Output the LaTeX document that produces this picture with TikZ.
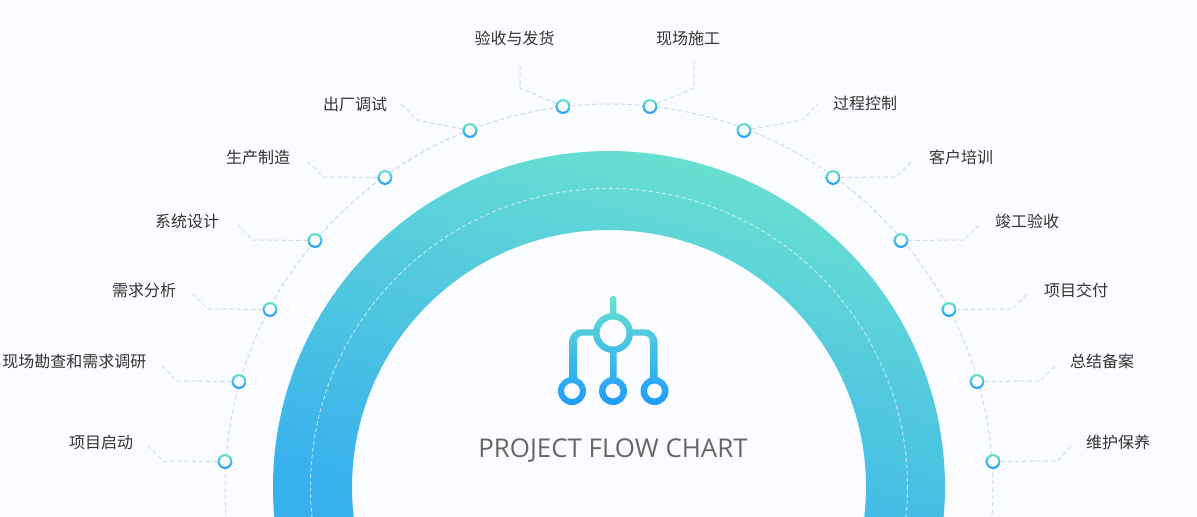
\documentclass[tikz,border=0pt]{standalone}
\usepackage{fontspec}
\setmainfont{Noto Sans CJK SC}
\newfontfamily\titlefont{Open Sans}
\definecolor{pagebg}{HTML}{FAFCFF}
\definecolor{leader}{HTML}{CCD8F2}
\definecolor{ringtop}{HTML}{6CE2CF}
\definecolor{ringbot}{HTML}{38B0EE}
\definecolor{icontop}{HTML}{68E2CE}
\definecolor{iconbot}{HTML}{1F9CFD}
\definecolor{labeltext}{HTML}{333333}
\definecolor{titletext}{HTML}{666666}
\tikzset{
  dotnode/.style={circle,minimum size=11.2pt,inner sep=0pt,outer sep=0pt,top color=icontop,bottom color=iconbot,
    path picture={\fill[white] (path picture bounding box.center) circle (4pt);}},
  lab/.style={font=\fontsize{12pt}{14pt}\selectfont,text=labeltext,inner sep=0pt},
  leaderline/.style={draw=leader,line width=0.75pt,dash pattern=on 3.2pt off 2.2pt},
}
\begin{document}
\begin{tikzpicture}[x=0.75pt,y=-0.75pt]
\useasboundingbox (0,0) rectangle (1197,517);
\fill[pagebg] (0,0) rectangle (1197,517);
% ring
\shade[top color=ringtop,bottom color=ringbot,shading angle=-14]
  ({609+336*cos(174.88)},{487+336*sin(174.88)}) arc (174.88:365.12:336)
  -- ({609+257*cos(6.7)},{487+257*sin(6.7)}) arc (366.7:173.3:257) -- cycle;
\begin{scope}
\clip (0,0) rectangle (1197,517);
\draw[white,opacity=0.6,line width=0.75pt,dash pattern=on 3pt off 2pt] (609,487) circle [radius=298.5];
\draw[leaderline] (609,488) circle [radius=384];
\end{scope}
% icon
\shade[top color=icontop,bottom color=iconbot,nonzero rule]
  % stem
  (610,316) -- (610,299) arc (180:360:3.2) -- (616.4,316) -- cycle
  % big ring
  (633,333) arc (0:360:20) -- cycle
  (626.5,333) arc (360:0:13.5) -- cycle
  % left branch
  (569,381) -- (569,343) .. controls (569,335) and (574,329.3) .. (582,329.3) -- (596,329.3)
  -- (596,335.5) -- (583,335.5) .. controls (579,335.5) and (577,338) .. (577,342) -- (577,381) -- cycle
  % middle branch
  (610,350) -- (616.6,350) -- (616.6,381) -- (610,381) -- cycle
  % right branch
  (630,329.3) -- (644,329.3) .. controls (652,329.3) and (657.5,335) .. (657.5,343) -- (657.5,381)
  -- (650,381) -- (650,342) .. controls (650,338) and (648,335.5) .. (644,335.5) -- (630,335.5) -- cycle
  % bottom rings
  (586,391) arc (0:360:14) -- cycle
  (580,391) arc (360:0:8) -- cycle
  (627,391) arc (0:360:14) -- cycle
  (620.5,391) arc (360:0:7.5) -- cycle
  (668.5,391) arc (0:360:14) -- cycle
  (662,391) arc (360:0:7.5) -- cycle;
\node[inner sep=0pt,text=titletext,font=\titlefont\fontsize{19.4pt}{22pt}\selectfont] (title) at (613,451) {PROJECT FLOW CHART};
% dots
\node[dotnode] (n1) at (225,461.5) {};
\node[dotnode] (n2) at (239,381.5) {};
\node[dotnode] (n3) at (270,309.5) {};
\node[dotnode] (n4) at (315,240.5) {};
\node[dotnode] (n5) at (385,177.5) {};
\node[dotnode] (n6) at (470,130.5) {};
\node[dotnode] (n7) at (563,106.5) {};
\node[dotnode] (n8) at (650,106.5) {};
\node[dotnode] (n9) at (744,130.5) {};
\node[dotnode] (n10) at (833,177.5) {};
\node[dotnode] (n11) at (901,240.5) {};
\node[dotnode] (n12) at (949,309.5) {};
\node[dotnode] (n13) at (977,381.5) {};
\node[dotnode] (n14) at (993,461.5) {};
% labels
\node[lab] (l1) at (101,442.5) {项目启动};
\node[lab] (l2) at (74.5,361.5) {现场勘查和需求调研};
\node[lab] (l3) at (144,290.5) {需求分析};
\node[lab] (l4) at (187,221.5) {系统设计};
\node[lab] (l5) at (258,157.5) {生产制造};
\node[lab] (l6) at (355,104.5) {出厂调试};
\node[lab] (l7) at (514.5,38.5) {验收与发货};
\node[lab] (l8) at (688,38.5) {现场施工};
\node[lab] (l9) at (865,103.5) {过程控制};
\node[lab] (l10) at (961,157.5) {客户培训};
\node[lab] (l11) at (1027,221.5) {竣工验收};
\node[lab] (l12) at (1076,290.5) {项目交付};
\node[lab] (l13) at (1102,361.5) {总结备案};
\node[lab] (l14) at (1118,442.5) {维护保养};
% leader points
\foreach \i/\ax/\ay/\bx/\by in {
 1/163/461/147/445, 2/177/381/161/365, 3/208/309/192/293, 4/253/240/237/224,
 5/323/177/307/161, 6/417/120/401/104, 7/520/88/520/62, 8/694/88/694/62,
 9/802/120/818/104, 10/896/177/912/161, 11/964/240/980/224, 12/1012/309/1028/293,
 13/1040/381/1056/365, 14/1057/461/1073/445}{
  \coordinate (a\i) at (\ax,\ay);
  \coordinate (b\i) at (\bx,\by);
  \draw[leaderline] (n\i) -- (a\i) -- (b\i);
}
\end{tikzpicture}
\end{document}
